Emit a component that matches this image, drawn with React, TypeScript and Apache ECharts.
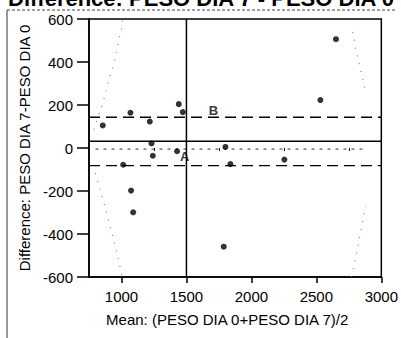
import React, { useEffect, useRef } from "react";
import * as echarts from "echarts";

// Scatter points (mean of the two measures, difference)
const meanValues = [856, 1013, 1069, 1074, 1090, 1218, 1231, 1241, 1428, 1441, 1472, 1787, 1800, 1838, 2254, 2531, 2651];
const diffValues = [105, -78, 164, -198, -299, 123, 21, -36, -15, 204, 167, -459, 5, -75, -54, 223, 506];

// Reference lines
const meanDiff = 31;
const upperLine = 143;
const lowerLine = -82;
const regressionLevel = -5;
const regressionFrom = 800;
const regressionTo = 2880;
const verticalRef = 1500;

// Dotted curved bands
const upperLeftX = [787, 825, 864, 877, 902, 941, 962, 979, 998, 1008];
const upperLeftY = [86, 153, 226, 254, 320, 390, 444, 507, 537, 600];
const lowerLeftX = [800, 856, 882, 908, 941, 962, 992, 1005];
const lowerLeftY = [-117, -236, -296, -355, -433, -479, -561, -600];
const upperRightX = [2780, 2800, 2852, 2875];
const upperRightY = [540, 467, 335, 270];
const lowerRightX = [2770, 2800, 2860, 2880];
const lowerRightY = [-600, -520, -330, -270];

// Axis ticks
const xMajorTicks = [1000, 1500, 2000, 2500, 3000];
const xMinorTicks = [1250, 1750, 2250, 2750];
const xMin = 750;
const xMax = 3000;
const yMin = -600;
const yMax = 600;
const yInterval = 200;

// Text
const titleText = "Difference: PESO DIA 7 - PESO DIA 0";
const xName = "Mean: (PESO DIA 0+PESO DIA 7)/2";
const yName = "Difference: PESO DIA 7-PESO DIA 0";
const labelA = { text: "A", x: 1486, y: -39 };
const labelB = { text: "B", x: 1708, y: 176 };

const FONT = "'Liberation Sans', Arial, Helvetica, sans-serif";
const INK = "#000";

function zip(xs: number[], ys: number[]) {
  return xs.map((x, i) => [x, ys[i]]);
}

export default function App() {
  const ref = useRef<HTMLDivElement>(null);

  useEffect(() => {
    if (!ref.current) return;
    const chart = echarts.init(ref.current, undefined, { renderer: "svg" });

    const dottedCurve = (data: number[][]) => ({
      type: "line",
      data,
      symbol: "none",
      silent: true,
      clip: true,
      lineStyle: { color: "#666", width: 1, type: [1, 7] },
    });

    const hLine = (y: number, style: any) => ({
      type: "line",
      data: [
        [xMin, y],
        [xMax, y],
      ],
      symbol: "none",
      silent: true,
      lineStyle: style,
    });

    chart.setOption({
      animation: false,
      backgroundColor: "#fff",
      grid: {
        left: 89,
        right: 19,
        top: 19,
        bottom: 61,
        show: true,
        borderColor: INK,
        borderWidth: 1.5,
      },
      graphic: [
        {
          type: "text",
          left: 8,
          top: -13,
          style: {
            text: titleText,
            font: `bold 22px ${FONT}`,
            fill: INK,
          },
        },
        {
          type: "line",
          shape: { x1: 7, y1: 10, x2: 7, y2: 338 },
          style: { stroke: "#333", lineWidth: 1 },
        },
        {
          type: "line",
          shape: { x1: 7, y1: 10, x2: 395, y2: 10 },
          style: { stroke: "#444", lineWidth: 1, lineDash: [3, 2] },
        },
      ],
      xAxis: [
        {
          type: "value",
          min: xMin,
          max: xMax,
          name: xName,
          nameLocation: "middle",
          nameGap: 35,
          nameTextStyle: { fontFamily: FONT, fontSize: 15, color: INK, padding: [0, 16, 0, 0] },
          axisLine: { show: true, onZero: false, lineStyle: { color: INK, width: 1.5 } },
          axisTick: { show: true, length: 6, customValues: xMajorTicks, lineStyle: { color: INK, width: 1.5 } },
          axisLabel: {
            show: true,
            customValues: xMajorTicks,
            margin: 12,
            fontFamily: FONT,
            fontSize: 15,
            color: INK,
            formatter: (v: number) => String(v),
          },
          splitLine: { show: false },
        },
        {
          type: "value",
          min: xMin,
          max: xMax,
          position: "bottom",
          axisLine: { show: false },
          axisTick: { show: true, length: 3, customValues: xMinorTicks, lineStyle: { color: INK, width: 1 } },
          axisLabel: { show: false },
          splitLine: { show: false },
        },
      ],
      yAxis: {
        type: "value",
        min: yMin,
        max: yMax,
        interval: yInterval,
        name: yName,
        nameLocation: "middle",
        nameGap: 54,
        nameTextStyle: { fontFamily: FONT, fontSize: 15, color: INK },
        axisLine: { show: true, onZero: false, lineStyle: { color: INK, width: 1.5 } },
        axisTick: { show: true, length: 12, lineStyle: { color: INK, width: 1.5 } },
        axisLabel: {
          margin: 16,
          fontFamily: FONT,
          fontSize: 15,
          color: INK,
          formatter: (v: number) => String(v),
        },
        splitLine: { show: false },
      },
      series: [
        hLine(meanDiff, { color: INK, width: 1.5, type: "solid" }),
        hLine(upperLine, { color: INK, width: 1.3, type: [11, 6] }),
        hLine(lowerLine, { color: INK, width: 1.3, type: [11, 6] }),
        {
          type: "line",
          data: [
            [regressionFrom, regressionLevel],
            [regressionTo, regressionLevel],
          ],
          symbol: "none",
          silent: true,
          lineStyle: { color: "#333", width: 1, type: [3, 5] },
        },
        {
          type: "line",
          data: [
            [verticalRef, yMin],
            [verticalRef, yMax],
          ],
          symbol: "none",
          silent: true,
          lineStyle: { color: INK, width: 1.5 },
        },
        dottedCurve(zip(upperLeftX, upperLeftY)),
        dottedCurve(zip(lowerLeftX, lowerLeftY)),
        dottedCurve(zip(upperRightX, upperRightY)),
        dottedCurve(zip(lowerRightX, lowerRightY)),
        {
          type: "scatter",
          data: zip(meanValues, diffValues),
          symbol: "circle",
          symbolSize: 6,
          itemStyle: { color: INK },
          z: 5,
        },
        {
          type: "scatter",
          data: [
            { value: [labelA.x, labelA.y], name: labelA.text },
            { value: [labelB.x, labelB.y], name: labelB.text },
          ],
          symbolSize: 0,
          silent: true,
          label: {
            show: true,
            position: "inside",
            formatter: (p: any) => p.name,
            fontFamily: FONT,
            fontSize: 13,
            fontWeight: "bold",
            color: INK,
          },
          z: 6,
        },
      ],
    });

    return () => chart.dispose();
  }, []);

  return (
    <div
      ref={ref}
      style={{ position: "fixed", left: 0, top: 0, width: 401, height: 338, background: "#fff" }}
    />
  );
}
